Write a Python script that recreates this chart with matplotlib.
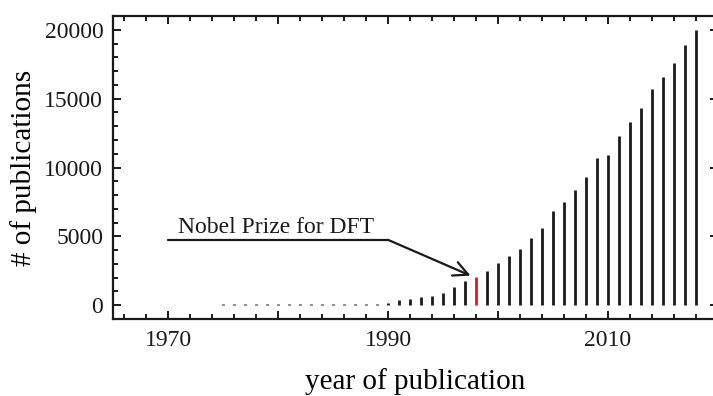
import numpy as np
import matplotlib
matplotlib.use("Agg")
import matplotlib.pyplot as plt
from matplotlib.ticker import MultipleLocator, FuncFormatter

plt.rcParams['font.family'] = ['Liberation Serif', 'DejaVu Serif']

# publications per year
years = list(range(1970, 2019))
counts = [10, 15, 20, 30, 45, 60, 62, 64, 66, 68,
          70, 72, 74, 76, 78, 80, 82, 85, 90, 100,
          140, 415, 465, 585, 705, 900, 1310, 1725, 2050, 2475,
          3060, 3545, 4100, 4900, 5600, 6840, 7500, 8400, 9275, 10660,
          10900, 12280, 13320, 14340, 15680, 16600, 17620, 18900, 20000]
nobel_year = 1998
note_text = "Nobel Prize for DFT"
labelled_years = [1970, 1990, 2010]

fig = plt.figure(figsize=(7.13, 3.96), dpi=100)
ax = fig.add_axes([0.1585, 0.1944, 0.8485, 0.7652])

colors = ['#e8141b' if y == nobel_year else '#1a1a1a' for y in years]
ax.vlines(years, 0, counts, colors=colors, linewidth=2.0, capstyle='butt')

ax.set_xlim(1965, 2020)
ax.set_ylim(-1000, 21000)

ax.xaxis.set_major_locator(MultipleLocator(10))
ax.xaxis.set_minor_locator(MultipleLocator(2))
ax.xaxis.set_major_formatter(
    FuncFormatter(lambda v, pos: f"{int(round(v))}" if int(round(v)) in labelled_years else ""))
ax.yaxis.set_major_locator(MultipleLocator(5000))
ax.yaxis.set_minor_locator(MultipleLocator(1000))

ax.tick_params(which='both', direction='in', width=1.4, top=True, right=True,
               labelsize=17, colors='#1a1a1a')
ax.tick_params(which='major', length=6)
ax.tick_params(which='minor', length=3.3)
ax.tick_params(axis='y', which='minor', right=False)
ax.tick_params(axis='y', pad=7)
ax.tick_params(axis='x', pad=8)

for s in ax.spines.values():
    s.set_linewidth(1.6)
    s.set_color('#1a1a1a')

ax.set_xlabel("year of publication", fontsize=21, labelpad=12.5)
ax.set_ylabel("# of publications", fontsize=21, labelpad=5)

# leader line from the label, then arrow down to the 1998 bar
ax.plot([1970, 1990], [4750, 4750], color='#1a1a1a', lw=1.6,
        solid_capstyle='round')
ax.annotate("", xy=(1997.5, 2150), xytext=(1990, 4750),
            arrowprops=dict(arrowstyle='->', color='#1a1a1a', lw=1.6,
                            mutation_scale=26, shrinkA=0, shrinkB=0))
ax.text(1970.9, 5220, note_text, fontsize=17, ha='left', va='baseline',
        color='#1a1a1a')

fig.savefig("out.png", dpi=100)
